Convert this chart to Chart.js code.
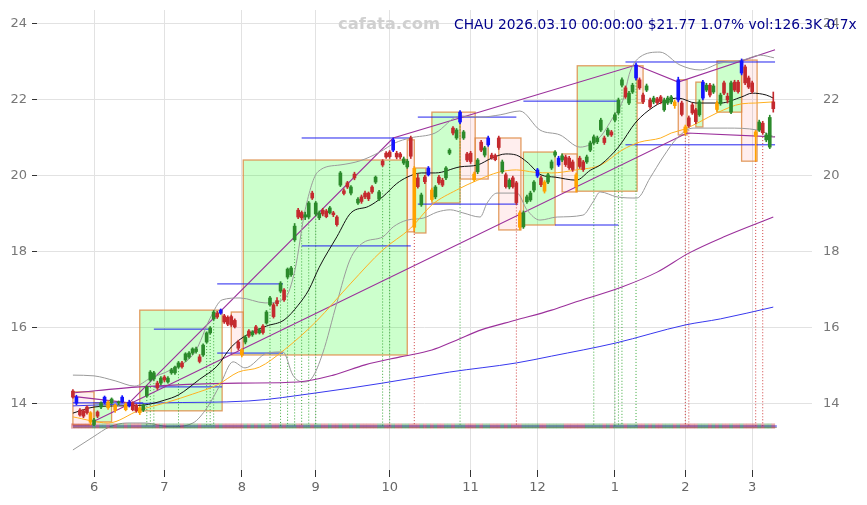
<!DOCTYPE html>
<html>
<head>
<meta charset="utf-8">
<script src="https://cdn.jsdelivr.net/npm/chart.js@4.4.1/dist/chart.umd.min.js"></script>
<style>
  html, body { margin: 0; padding: 0; background: #fff; }
  #wrap { width: 867px; height: 505px; }
</style>
</head>
<body>
<div id="wrap"><canvas id="c" width="867" height="505"></canvas></div>
<script>
// CHAU daily candles, 2025-05-22 .. 2026-03-10, x = trading day index
const opens = [
  14.34,14.18,13.84,13.82,13.92,13.77,13.46,13.79,13.92,14.04,
  14.05,14.03,13.97,14.03,14.06,14.00,13.95,14.03,13.97,13.90,
  13.84,14.21,14.63,14.66,14.55,14.55,14.71,14.58,14.82,14.82,
  14.97,15.08,15.16,15.24,15.34,15.38,15.24,15.29,15.63,15.87,
  16.24,16.39,16.39,16.32,16.28,16.30,16.20,15.63,15.42,15.63,
  15.92,15.82,16.03,15.87,16.05,16.13,16.61,16.61,16.72,16.97,
  17.00,17.34,17.40,18.32,19.10,19.04,18.92,18.92,19.55,19.00,
  18.90,19.10,19.08,19.03,19.03,18.92,19.76,19.61,19.82,19.55,
  20.05,19.29,19.45,19.55,19.55,19.71,19.97,19.39,20.29,20.60,
  20.63,20.68,20.60,20.58,20.34,20.24,21.00,20.20,19.95,19.24,
  19.97,20.03,19.63,19.45,19.97,19.89,19.95,20.60,21.26,21.00,
  21.42,21.00,20.58,20.60,20.05,20.11,20.89,20.55,20.82,20.55,
  20.54,21.00,20.11,20.03,19.71,19.95,19.82,19.03,18.66,19.32,
  19.37,19.63,20.00,19.95,19.84,19.84,20.21,20.55,20.29,20.42,
  20.50,20.47,20.37,20.03,20.47,20.37,20.37,20.68,20.87,20.90,
  21.21,21.00,21.08,21.16,21.47,21.66,22.39,22.32,21.92,22.21,
  22.58,22.53,22.13,22.26,22.00,21.95,22.03,22.08,21.74,21.92,
  21.95,21.95,22.00,21.92,21.29,21.53,21.87,21.74,21.61,22.05,
  22.26,22.39,22.21,21.92,21.90,22.45,22.10,21.68,22.47,22.47,
  22.71,22.87,22.58,22.45,21.16,21.21,21.39,20.95,20.76,21.95
];
const highs = [
  14.38,14.23,13.88,13.86,13.95,13.80,13.62,13.82,14.06,14.21,
  14.08,14.16,14.00,14.08,14.22,14.03,14.10,14.06,14.00,13.93,
  14.00,14.48,14.88,14.86,14.60,14.72,14.75,14.72,14.94,15.00,
  15.12,15.12,15.35,15.38,15.48,15.50,15.30,15.58,15.90,16.04,
  16.46,16.44,16.50,16.36,16.32,16.34,16.24,15.68,15.46,15.80,
  15.96,15.93,16.07,15.99,16.09,16.46,16.83,16.65,16.80,17.22,
  17.04,17.58,17.62,18.75,19.15,19.08,19.05,19.33,19.60,19.33,
  19.08,19.15,19.12,19.20,19.07,18.96,20.12,19.66,19.86,19.75,
  20.10,19.43,19.50,19.60,19.58,19.75,20.00,19.62,20.43,20.64,
  20.67,21.00,20.65,20.62,20.50,20.44,21.05,20.25,20.05,19.55,
  20.02,20.25,19.68,19.75,20.02,19.94,20.25,20.72,21.30,21.25,
  21.72,21.20,20.62,20.65,20.10,20.46,20.94,20.78,21.05,20.60,
  20.58,21.05,20.42,20.08,19.93,20.00,19.86,19.08,19.08,19.50,
  19.60,19.88,20.20,20.00,19.88,20.07,20.42,20.67,20.52,20.58,
  20.55,20.52,20.42,20.08,20.52,20.41,20.55,20.92,21.08,21.05,
  21.52,21.05,21.26,21.20,21.66,22.05,22.58,22.37,22.23,22.44,
  22.97,22.58,22.18,22.42,22.05,22.10,22.07,22.12,22.05,22.10,
  22.12,22.00,22.60,21.97,21.34,21.58,21.92,21.78,22.00,22.52,
  22.44,22.44,22.42,21.97,22.18,22.50,22.18,22.50,22.52,22.52,
  23.08,22.92,22.63,22.50,21.20,21.47,21.44,21.13,21.60,22.21
];
const lows = [
  14.15,13.98,13.68,13.64,13.73,13.45,13.43,13.64,13.88,14.01,
  13.86,14.00,13.78,13.98,14.03,13.82,13.92,13.82,13.78,13.72,
  13.80,14.18,14.60,14.62,14.38,14.50,14.58,14.55,14.78,14.78,
  14.94,14.94,15.12,15.20,15.30,15.34,15.08,15.25,15.60,15.84,
  16.20,16.25,16.36,16.12,16.06,16.04,16.00,15.42,15.24,15.58,
  15.75,15.78,15.84,15.84,15.84,16.10,16.58,16.26,16.58,16.93,
  16.70,17.30,17.36,18.28,18.88,18.85,18.85,18.88,19.38,18.95,
  18.85,18.95,18.90,19.00,18.93,18.68,19.72,19.50,19.67,19.50,
  19.90,19.25,19.28,19.40,19.35,19.54,19.80,19.35,20.25,20.46,
  20.47,20.64,20.45,20.45,20.30,20.20,20.46,18.55,19.68,19.20,
  19.80,20.00,19.34,19.40,19.78,19.72,19.90,20.56,21.08,20.96,
  21.38,20.96,20.38,20.33,19.86,20.06,20.64,20.50,20.78,20.44,
  20.40,20.70,20.07,19.68,19.66,19.68,19.25,18.58,18.62,19.28,
  19.33,19.58,19.96,19.72,19.55,19.80,20.17,20.50,20.25,20.38,
  20.25,20.17,20.12,19.58,20.20,20.12,20.33,20.64,20.83,20.85,
  21.17,20.83,21.04,21.04,21.43,21.62,22.35,22.04,21.88,22.17,
  22.53,22.28,21.90,22.22,21.78,21.90,21.88,21.90,21.70,21.88,
  21.90,21.78,21.95,21.58,21.08,21.28,21.62,21.38,21.57,22.00,
  22.22,22.08,22.17,21.70,21.86,22.14,21.92,21.64,22.22,22.18,
  22.66,22.40,22.30,22.18,20.39,21.17,21.10,20.90,20.72,21.68
];
const closes = [
  14.18,14.02,13.71,13.68,13.77,13.52,13.58,13.68,14.03,14.18,
  13.90,14.13,13.83,14.05,14.18,13.85,14.05,13.85,13.82,13.77,
  13.97,14.45,14.84,14.82,14.42,14.68,14.63,14.68,14.90,14.97,
  15.08,14.98,15.32,15.34,15.45,15.45,15.12,15.55,15.87,16.00,
  16.42,16.29,16.47,16.16,16.10,16.08,16.03,15.47,15.30,15.76,
  15.79,15.89,15.87,15.95,15.88,16.42,16.79,16.30,16.64,17.18,
  16.74,17.55,17.58,18.68,18.92,18.90,18.98,19.29,19.42,19.29,
  19.03,19.00,18.93,19.16,18.98,18.72,20.08,19.54,19.71,19.71,
  19.95,19.39,19.33,19.45,19.40,19.58,19.84,19.58,20.39,20.50,
  20.51,20.95,20.50,20.50,20.45,20.39,20.52,18.65,19.72,19.50,
  19.85,20.21,19.38,19.71,19.82,19.76,20.21,20.68,21.13,21.21,
  21.68,21.16,20.42,20.38,19.90,20.42,20.68,20.74,21.00,20.48,
  20.43,20.75,20.37,19.72,19.89,19.72,19.30,18.65,19.03,19.45,
  19.55,19.84,20.16,19.77,19.60,20.03,20.37,20.63,20.47,20.53,
  20.30,20.22,20.17,19.72,20.25,20.17,20.50,20.87,21.03,21.00,
  21.47,20.88,21.21,21.08,21.61,22.00,22.53,22.08,22.18,22.39,
  22.92,22.32,21.95,22.37,21.82,22.05,21.93,21.96,22.00,22.05,
  22.08,21.85,22.53,21.62,21.14,21.32,21.66,21.43,21.95,22.47,
  22.39,22.13,22.37,21.75,22.13,22.18,22.00,22.45,22.26,22.22,
  23.03,22.45,22.34,22.22,21.04,21.42,21.14,21.08,21.54,21.77
];
// candle colour: g up, r down, b swing-high marker, o swing-low marker
const marks = (
  'rbrrrogrgb' + 'ogogbobrro' + 'ggggrgrggg' + 'grggggrggg' + 'grbrrrrrog' +
  'rgrgrggrrg' + 'rgggrrggrg' + 'grrgrrgrrg' + 'rgrrrrggrr' + 'rbrrggrorg' +
  'rbogrrggrg' + 'bgrrogrgbr' + 'rrgrgrrogg' + 'ggbrogggbg' + 'rrrorrgggg' +
  'grgrgggrgg' + 'brrgrgrrgg' + 'gobrorrrgb' + 'grgogrrgrr' + 'brrrogrggr'
).split('');

const monthIdx = [6, 26, 48, 69, 90, 113, 132, 154, 174, 193];
const monthLabels = ['6', '7', '8', '9', '10', '11', '12', '1', '2', '3'];
const yTicks = [14, 16, 18, 20, 22, 24];

// moving averages and bands, [day index, price]
const ma20 = [[0,13.76],[6,13.92],[13,13.95],[20,13.97],[26,14.1],[30,14.24],[36,14.65],[41,15.0],[45,15.5],[50,15.85],[55,16.05],[60,16.21],[64,16.6],[67,17.0],[70,17.6],[75,18.4],[79,19.03],[84,19.2],[88,19.45],[92,19.8],[95,19.97],[99,20.08],[103,20.08],[110,20.24],[115,20.29],[119,20.47],[123,20.58],[126,20.55],[129,20.37],[133,20.03],[137,19.97],[143,19.89],[147,20.15],[150,20.3],[155,20.76],[160,21.42],[165,21.82],[169,22.0],[172,22.05],[177,21.92],[184,21.92],[190,22.08],[193,22.18],[197,22.13],[199,22.05]];
const ma50 = [[0,13.66],[10,13.5],[19,13.84],[27,14.05],[34,14.26],[41,14.5],[47,14.84],[53,14.97],[60,15.42],[69,16.16],[79,17.18],[88,18.05],[96,18.63],[102,19.24],[109,19.63],[115,19.89],[121,20.1],[126,20.16],[131,20.1],[136,20.08],[143,20.16],[150,20.29],[156,20.68],[161,20.89],[167,21.0],[170,21.13],[174,21.24],[178,21.42],[183,21.66],[190,21.9],[194,21.92],[199,21.95]];
const ma100 = [[0,14.29],[19,14.45],[47,14.55],[64,14.58],[74,14.76],[83,15.03],[93,15.24],[102,15.42],[109,15.68],[116,15.95],[126,16.21],[136,16.47],[142,16.66],[156,17.08],[166,17.47],[175,17.97],[185,18.4],[199,18.92]];
const ma200 = [[0,13.95],[25,14.03],[50,14.08],[69,14.29],[88,14.55],[107,14.84],[126,15.08],[136,15.26],[154,15.6],[174,16.08],[184,16.24],[199,16.55]];
const bbUpper = [[0,14.76],[6,14.74],[12,14.61],[17.6,14.47],[22,14.68],[27.6,14.89],[34.7,15.37],[39,16.26],[42.4,16.74],[47.5,16.79],[54.6,16.66],[60.3,16.79],[63.1,17.53],[66,19.11],[69.6,20.11],[75.9,20.29],[81.6,20.4],[87.2,20.63],[91.5,20.87],[95.8,21.0],[102.9,21.13],[110,21.58],[115.7,21.55],[121.4,21.61],[127,21.71],[132.7,21.21],[138.4,21.08],[144.1,20.76],[149.8,21.03],[153.5,21.55],[156.3,22.0],[158.3,22.74],[161.1,23.13],[166.8,23.26],[172.5,22.92],[178.2,22.79],[183.9,22.97],[190.4,23.05],[195.3,23.18],[199.2,23.11]];
const bbLower = [[0,12.79],[5.7,13.13],[10.5,13.4],[15.4,13.5],[20.5,13.5],[27.6,13.4],[34.1,13.5],[38.1,13.9],[41.8,14.5],[45.5,15.11],[48.9,14.95],[55.2,15.34],[59.7,15.37],[62.5,14.76],[65.4,14.58],[67.9,14.68],[71,15.34],[75,16.66],[78.7,17.79],[82.4,18.24],[88.1,18.4],[91,18.66],[95,18.84],[99.5,18.89],[103.5,19.05],[107.2,19.11],[110.8,19.03],[115.7,18.92],[117.7,19.29],[120.5,19.55],[126.2,19.55],[129,19.11],[132.7,18.84],[137.6,18.92],[144.9,18.97],[147.8,19.32],[149.8,19.58],[154.6,19.45],[160.3,19.42],[164,19.95],[167.7,20.5],[171.7,21.0],[176.2,21.26],[185.9,21.26],[194.4,21.21],[199.2,21.03]];

// trend channel lines
const trendLeft = [[0,14.2],[16,14.03]];
const trendUpper = [[16,14.03],[91,21.0],[160,22.92],[172,22.47],[199.5,23.32]];
const trendLower = [[5.7,13.53],[174.5,21.13],[199.5,21.03]];

// horizontal levels: [from day, to day, price]
const levels = [[0,20,14.03],[23,39,15.97],[23,42.4,14.45],[41,59.7,17.16],[41,59.7,15.34],[65,96,21.0],[65,96,18.16],[98,126,21.55],[98,126.5,19.26],[128,155,21.97],[137,155,18.71],[157,199.5,23.0],[157,199.5,20.82]];

// swing boxes: start day, end day, top, bottom, up(1)/down(0)
const boxStart = [0,6,19,45,48.4,95,97,102,110,114.3,121,128,139,143.3,160.3,172,177,183,190];
const boxEnd   = [6,11,42.4,48.4,95,97,100.3,110,114.3,118,127.3,137,143.3,160.3,162,174.5,179,190,194.4];
const boxTop   = [14.32,14.03,16.47,16.42,20.42,20.95,20.21,21.68,21.68,21.0,21.0,20.63,20.58,22.9,22.9,22.53,22.47,23.03,23.05];
const boxBot   = [13.45,13.53,13.82,15.29,15.29,18.53,18.5,19.29,19.92,19.92,18.58,18.71,19.58,19.6,21.92,21.08,21.29,21.68,20.39];
const boxUp    = [0,1,1,0,1,0,1,1,0,0,0,1,0,1,0,0,1,1,0];

// signal days with dotted drop lines
const greenDrops = [21,22,23,30,38,39,40,56,59,61,63,65,67,69,88,90,110,148,154,155,156,160];
const redDrops = [97,126,174,175,194,196];

const titleText = 'CHAU 2026.03.10 00:00:00 $21.77 1.07% vol:126.3K 0.7x';

const BASE = 13.42;
const colorOf = { g: '#2b8a2b', r: '#c42a2e', b: '#1414ff', o: '#ffa200' };

const days = closes.map((c, i) => i);
const candleColors = marks.map(m => colorOf[m]);

function pts(arr) { return arr.map(p => ({ x: p[0], y: p[1] })); }

const levelPts = [];
levels.forEach(l => { levelPts.push({ x: l[0], y: l[2] }, { x: l[1], y: l[2] }, { x: l[1], y: null }); });

function drops(list) {
  const out = [];
  list.forEach(i => { out.push({ x: i, y: lows[i] }, { x: i, y: BASE }, { x: i, y: null }); });
  return out;
}

function line(data, color, width, extra) {
  return Object.assign({
    type: 'line', data: data, borderColor: color, borderWidth: width,
    pointRadius: 0, fill: false, order: 5, cubicInterpolationMode: 'monotone'
  }, extra || {});
}

// axis label overhang would otherwise push the plot area down
function noPad(s) { s.paddingTop = 0; s.paddingBottom = 0; s.paddingLeft = 0; s.paddingRight = 0; }

const boxPlugin = {
  id: 'boxes',
  beforeDatasetsDraw(chart) {
    const ctx = chart.ctx, xs = chart.scales.x, ys = chart.scales.y;
    ctx.save();
    for (let i = 0; i < boxStart.length; i++) {
      const x1 = xs.getPixelForValue(boxStart[i]), x2 = xs.getPixelForValue(boxEnd[i]);
      const y1 = ys.getPixelForValue(boxTop[i]), y2 = ys.getPixelForValue(boxBot[i]);
      ctx.fillStyle = boxUp[i] ? 'rgba(0,255,0,0.2)' : 'rgba(255,40,40,0.08)';
      ctx.fillRect(x1, y1, x2 - x1, y2 - y1);
      ctx.strokeStyle = 'rgba(222,140,70,0.85)';
      ctx.lineWidth = 1.3;
      ctx.strokeRect(x1, y1, x2 - x1, y2 - y1);
    }
    ctx.font = 'bold 16.4px "DejaVu Sans"';
    ctx.fillStyle = '#d0d0d0';
    ctx.textBaseline = 'middle';
    ctx.fillText('cafata.com', 338, 25);
    ctx.restore();
  },
  afterDraw(chart) {
    const ctx = chart.ctx;
    ctx.save();
    ctx.font = '13.8px "DejaVu Sans"';
    ctx.fillStyle = '#00008b';
    ctx.textBaseline = 'middle';
    ctx.fillText(titleText, 454, 25);
    ctx.restore();
  }
};

Chart.defaults.font.family = "'DejaVu Sans', sans-serif";
Chart.defaults.font.size = 13;

new Chart(document.getElementById('c'), {
  type: 'bar',
  data: {
    datasets: [
      {
        type: 'bar', order: 0, grouped: false, barThickness: 3, minBarLength: 1,
        data: days.map(i => ({ x: i, y: [Math.min(opens[i], closes[i]), Math.max(opens[i], closes[i])] })),
        backgroundColor: candleColors, borderWidth: 0
      },
      {
        type: 'bar', order: 1, grouped: false, barThickness: 1,
        data: days.map(i => ({ x: i, y: [lows[i], highs[i]] })),
        backgroundColor: candleColors, borderWidth: 0
      },
      {
        type: 'bar', order: 3, grouped: false, barThickness: 3,
        data: days.map(i => ({ x: i, y: [BASE - 0.06, BASE + 0.06] })),
        backgroundColor: days.map(i => closes[i] >= opens[i] ? 'rgba(43,138,43,0.4)' : 'rgba(196,42,46,0.4)'),
        borderWidth: 0
      },
      line(pts(ma20), '#111111', 1),
      line(pts(ma50), '#ffb020', 1),
      line(pts(ma100), '#9b309b', 1.1),
      line(pts(ma200), '#3838ee', 1),
      line(pts(bbUpper), '#9a9a9a', 1),
      line(pts(bbLower), '#9a9a9a', 1),
      line(pts(trendLeft), '#9b309b', 1.1, { cubicInterpolationMode: 'default', tension: 0 }),
      line(pts(trendUpper), '#9b309b', 1.1, { cubicInterpolationMode: 'default', tension: 0 }),
      line(pts(trendLower), '#9b309b', 1.1, { cubicInterpolationMode: 'default', tension: 0 }),
      line(levelPts, '#2222ee', 1, { cubicInterpolationMode: 'default', tension: 0 }),
      line(drops(greenDrops), '#39a839', 1, { borderDash: [1, 2], tension: 0, order: 6 }),
      line(drops(redDrops), '#d04040', 1, { borderDash: [1, 2], tension: 0, order: 6 }),
      line([{ x: 0, y: BASE - 0.04 }, { x: 200, y: BASE - 0.04 }], '#999999', 1, { order: 4 }),
      line([{ x: 0, y: BASE }, { x: 200, y: BASE }], '#2020dd', 1, { order: 4 })
    ]
  },
  options: {
    responsive: false,
    animation: false,
    devicePixelRatio: 1,
    layout: { padding: { top: 10, left: 0, right: 0, bottom: 0 } },
    plugins: { legend: { display: false }, tooltip: { enabled: false } },
    scales: {
      x: {
        type: 'linear', min: -10.2, max: 210, offset: false,
        grid: { color: '#e2e2e2', tickColor: '#333', tickLength: 7, offset: false },
        border: { display: false },
        ticks: { autoSkip: false, maxRotation: 0, color: '#666', padding: 3,
                 callback: (v, i) => monthLabels[i] },
        afterBuildTicks: s => { s.ticks = monthIdx.map(v => ({ value: v })); },
        afterFit: s => { s.height = 35; noPad(s); }
      },
      y: {
        position: 'left', min: 12.263, max: 24.368,
        grid: { color: '#e2e2e2', tickColor: '#333', tickLength: 5 },
        border: { display: false },
        ticks: { color: '#777', padding: 5 },
        afterBuildTicks: s => { s.ticks = yTicks.map(v => ({ value: v })); },
        afterFit: s => { s.width = 37; noPad(s); }
      },
      y2: {
        position: 'right', min: 12.263, max: 24.368,
        grid: { drawOnChartArea: false, drawTicks: false },
        border: { display: false },
        ticks: { color: '#777', padding: 11 },
        afterBuildTicks: s => { s.ticks = yTicks.map(v => ({ value: v })); },
        afterFit: s => { s.width = 55; noPad(s); }
      }
    }
  },
  plugins: [boxPlugin]
});
</script>
</body>
</html>
